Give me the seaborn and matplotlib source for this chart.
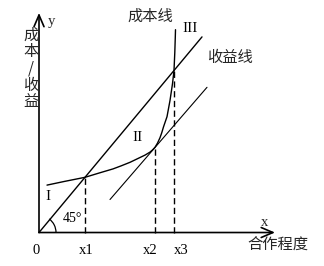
import matplotlib
matplotlib.use("Agg")
import matplotlib.pyplot as plt
import seaborn as sns
from matplotlib.patches import Arc

sns.set_theme(style="white")
plt.rcParams['font.family'] = ['Noto Sans CJK SC', 'DejaVu Sans']

# ---- data ----
revenue_x = [0.0, 16.3]          # 45° 收益线
revenue_y = [0.0, 16.3]
tangent_x = [7.1, 16.8]          # parallel tangent line
tangent_y = [2.75, 12.1]
cost_x = [0.8, 2.5, 4.6, 6.1, 7.4, 8.2, 9.1, 10.1, 10.6, 11.1, 11.35, 11.6,
          11.85, 12.1, 12.27, 12.45, 12.8, 13.1, 13.35, 13.5, 13.58, 13.63,
          13.65]
cost_y = [3.95, 4.25, 4.6, 4.98, 5.3, 5.55, 5.85, 6.25, 6.45, 6.7, 6.88, 7.1,
          7.45, 7.9, 8.3, 8.8, 9.65, 11.0, 12.4, 13.5, 15.0, 16.3, 16.9]
mark_x = [4.6, 11.6, 13.5]       # x1, x2, x3
mark_top = [4.6, 7.1, 13.5]
tick_labels = ["0", "x1", "x2", "x3"]
region_labels = ["I", "II", "III"]

# ---- layout ----
label_pos = [-0.3, 4.7, 11.1, 14.2]
region_pos = [(0.9, 2.96), (9.9, 7.9), (15.1, 17.0)]

fig = plt.figure(figsize=(3.24, 2.66), dpi=100)
ax = fig.add_axes([0, 0, 1, 1])
ax.set_xlim(-3.9, 28.5)
ax.set_ylim(-2.79, 19.375)
ax.axis("off")

lw = 1.0
sns.lineplot(x=revenue_x, y=revenue_y, ax=ax, color="black", lw=lw,
             estimator=None, sort=False)
sns.lineplot(x=tangent_x, y=tangent_y, ax=ax, color="black", lw=0.8,
             estimator=None, sort=False)
sns.lineplot(x=cost_x, y=cost_y, ax=ax, color="black", lw=lw,
             estimator=None, sort=False)
for mx, mt in zip(mark_x, mark_top):
    ax.plot([mx, mx], [0, mt], color="black", lw=lw, dashes=(4.5, 2.5))

# axes with open arrows
arrow = dict(arrowstyle="->,head_length=0.7,head_width=0.3", color="black",
             lw=1.2, shrinkA=0, shrinkB=0)
ax.annotate("", xy=(0, 18.3), xytext=(0, 0), arrowprops=arrow)
ax.annotate("", xy=(23.6, 0), xytext=(0, 0), arrowprops=arrow)

# 45° arc
r = 1.7
ax.add_patch(Arc((0, 0), 2 * r, 2 * r * 10 / 12, theta1=0, theta2=48,
                 color="black", lw=0.9))
ax.text(3.3, 1.2, "45°", fontsize=10, family="Liberation Serif",
        ha="center", va="center", color="black")

serif = "Liberation Serif"
for lab, px in zip(tick_labels, label_pos):
    ax.text(px, -1.5, lab, fontsize=10.5, family=serif, ha="center",
            va="center", color="black")
for lab, (px, py) in zip(region_labels, region_pos):
    ax.text(px, py, lab, fontsize=11, family=serif, ha="center",
            va="center", color="black")

ax.text(1.2, 17.6, "y", fontsize=10.5, family=serif, ha="center", va="center")
ax.text(22.6, 0.8, "x", fontsize=10.5, family=serif, ha="center", va="center")

cjk = ['Noto Sans CJK SC', 'DejaVu Sans']
ax.text(23.9, -1.0, "合作程度", fontsize=11, family=cjk, ha="center", va="center")
ax.text(11.1, 18.0, "成本线", fontsize=11, family=cjk, ha="center", va="center")
ax.text(19.1, 14.6, "收益线", fontsize=11, family=cjk, ha="center", va="center")

ylab_chars = ["成", "本", "/", "收", "益"]
ylab_py = [35.5, 51.5, 68.5, 85.0, 101.0]
for ch, py in zip(ylab_chars, ylab_py):
    ax.text(-0.8, (232.5 - py) / 12, ch, fontsize=11, family=cjk,
            ha="center", va="center")

fig.savefig("out.png", dpi=100)
